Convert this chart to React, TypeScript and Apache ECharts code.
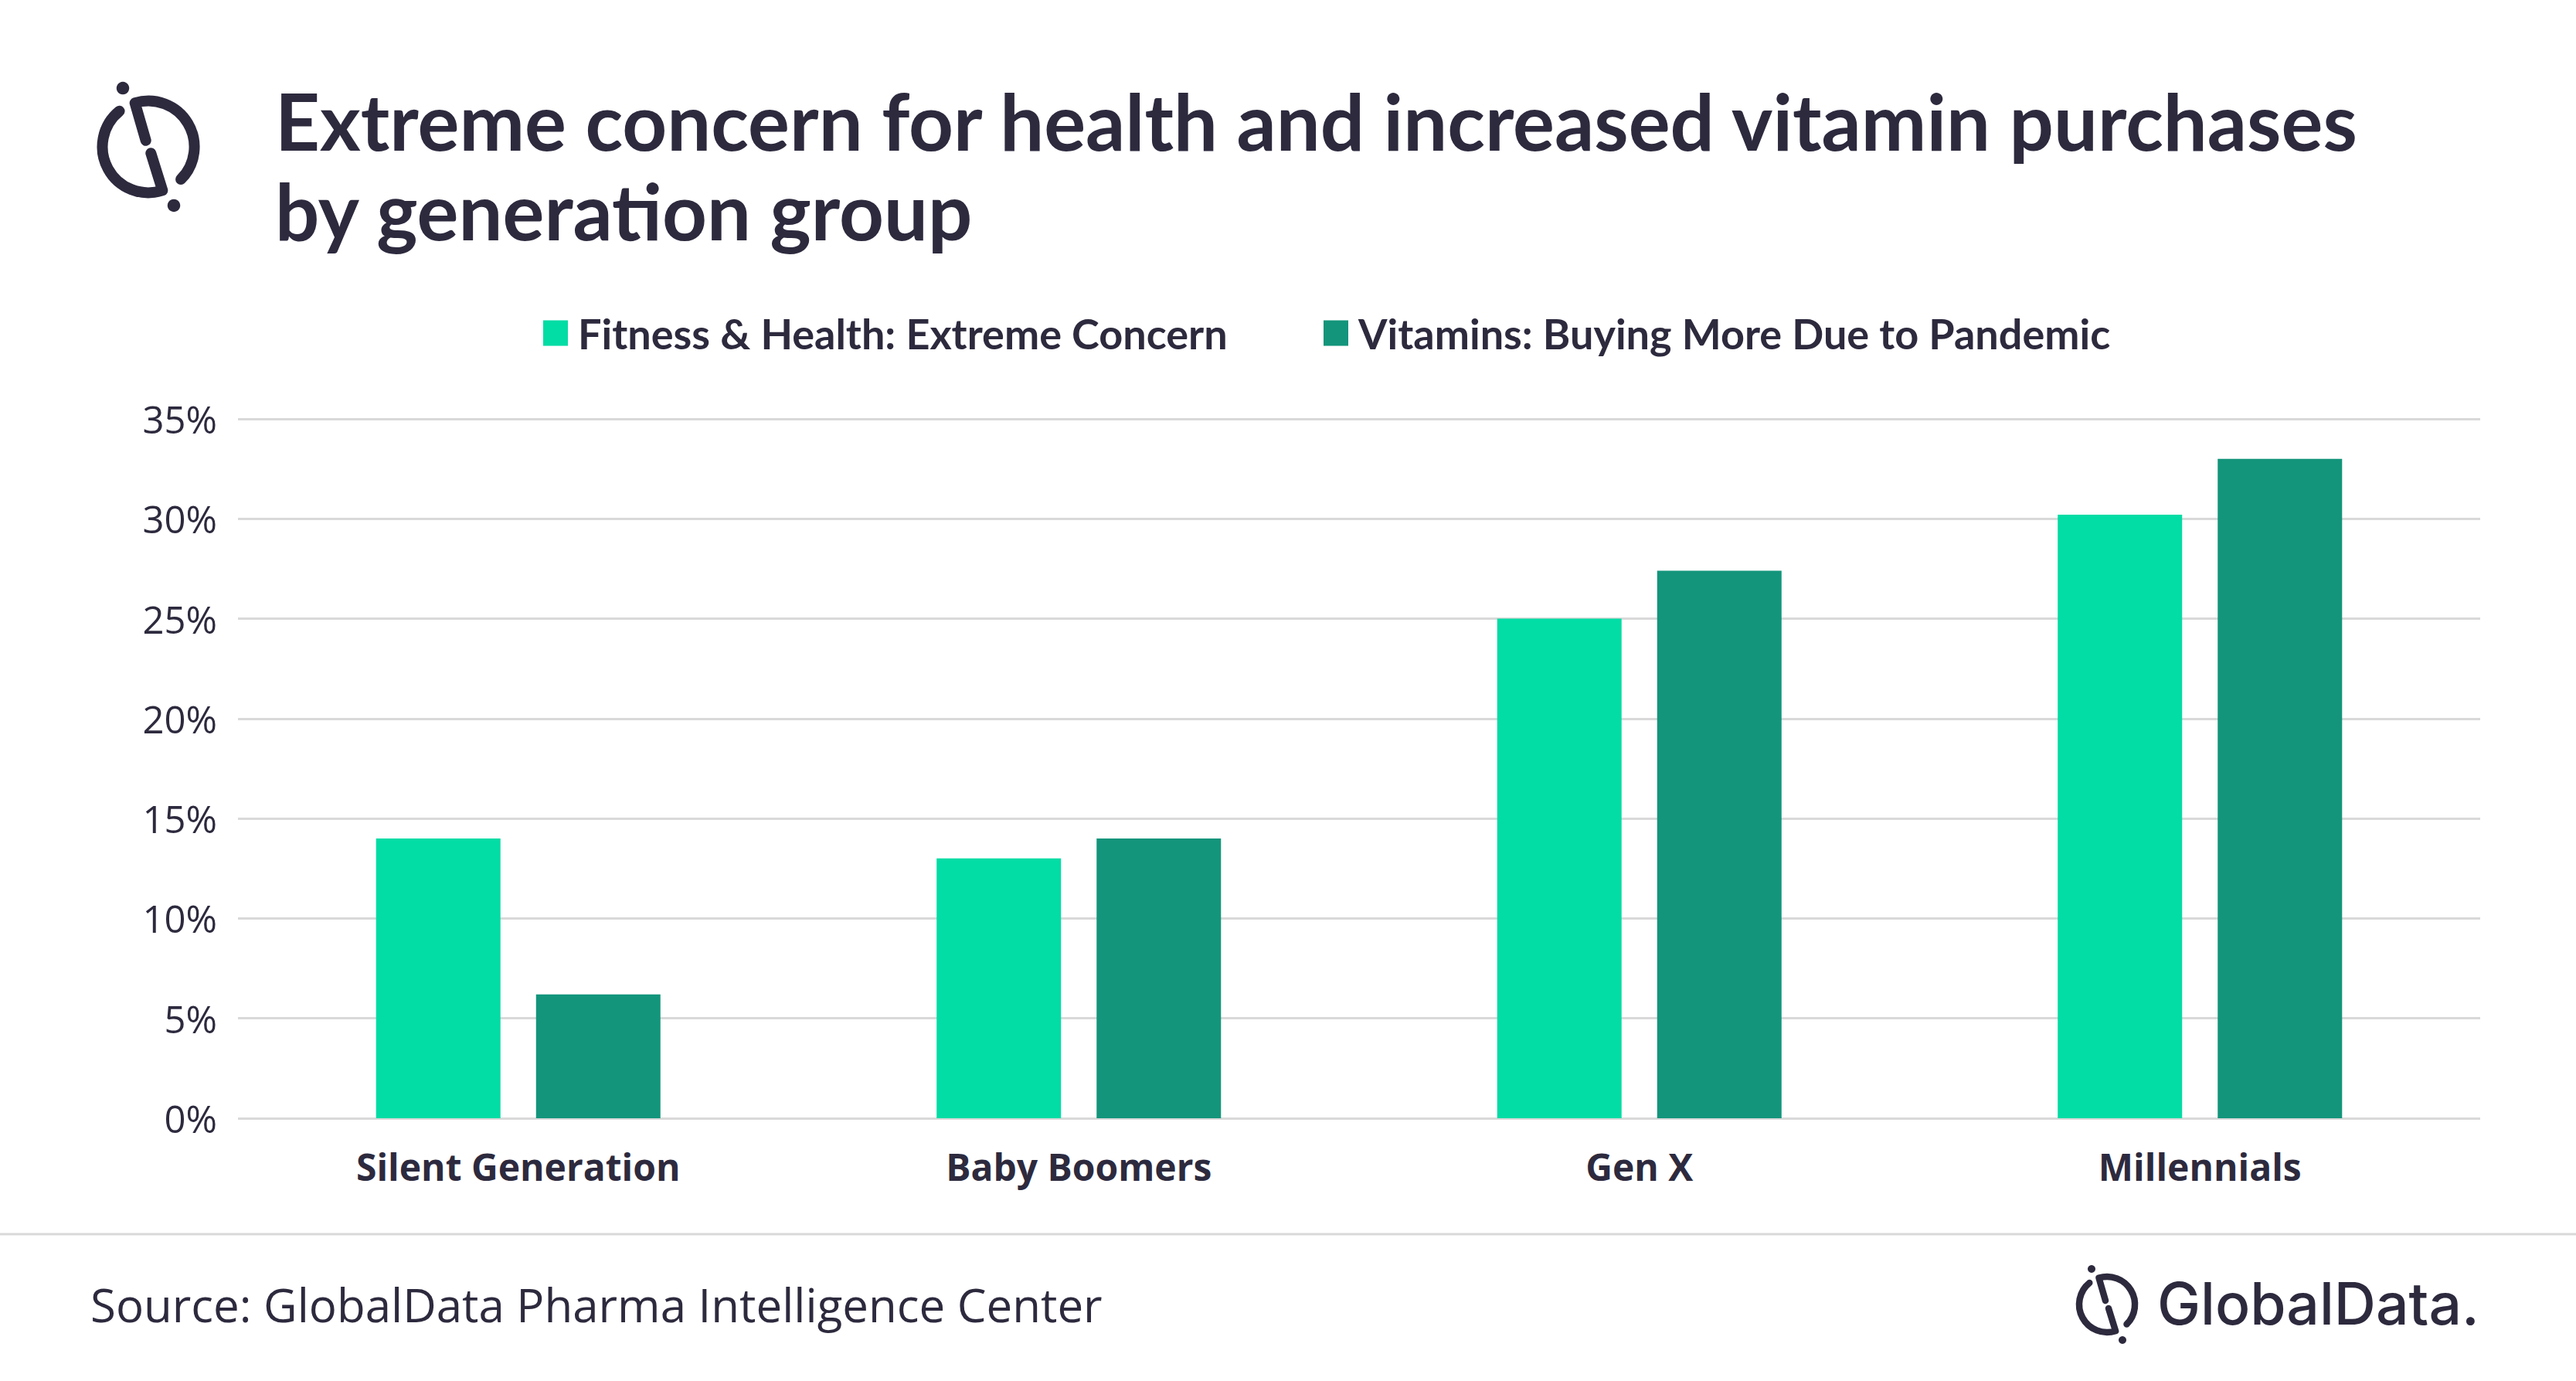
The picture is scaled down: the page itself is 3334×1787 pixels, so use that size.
import React, { useEffect, useRef } from "react";
import * as echarts from "echarts";

const categories = ["Silent Generation", "Baby Boomers", "Gen X", "Millennials"];
const seriesNames = ["Fitness & Health: Extreme Concern", "Vitamins: Buying More Due to Pandemic"];
const fitnessValues = [14, 13, 25, 30.2];
const vitaminValues = [6.2, 14, 27.4, 33];
const yMin = 0;
const yMax = 35;
const yStep = 5;

const titleLines = ["Extreme concern for health and increased vitamin purchases", "by generation group"];
const sourceText = "Source: GlobalData Pharma Intelligence Center";
const brandText = "GlobalData.";

const INK = "#2d2a3e";
const LIGHT = "#02dca5";
const DARK = "#13957b";
const GRID = "#d9d9d9";

const logoD =
  "M -2 -5 L -10.5 -34.4 A 36 36 0 0 1 25.5 25.5 " +
  "M 2 5 L 11.1 34.2 A 36 36 0 0 1 -22.7 -28.0";

let registered = false;
function ensureShape() {
  if (registered) return;
  echarts.graphic.registerShape("gdLogo", echarts.graphic.extendPath(logoD, {}) as any);
  registered = true;
}

function logoGroup(x: number, y: number, s: number) {
  return {
    type: "group",
    x,
    y,
    scaleX: s,
    scaleY: s,
    children: [
      {
        type: "gdLogo",
        style: { stroke: INK, fill: "none", lineWidth: 8.5, lineCap: "round", lineJoin: "round" },
      },
      { type: "circle", shape: { cx: -20, cy: -46, r: 5 }, style: { fill: INK } },
      { type: "circle", shape: { cx: 20, cy: 46, r: 5 }, style: { fill: INK } },
    ],
  };
}

const legendText = { fontFamily: "Lato", fontWeight: "bold", fontSize: 54, color: INK, padding: [0, 0, 0, 8] };

export default function App() {
  const ref = useRef<HTMLDivElement>(null);
  useEffect(() => {
    document.body.style.margin = "0";
    ensureShape();
    const chart = echarts.init(ref.current!, null, { renderer: "svg" });
    chart.setOption({
      animation: false,
      backgroundColor: "#ffffff",
      grid: { left: 308, right: 124, top: 542, bottom: 340, containLabel: false },
      legend: [
        {
          data: [seriesNames[0]],
          left: 703,
          top: 404,
          padding: 0,
          itemWidth: 32,
          itemHeight: 33,
          icon: "rect",
          textStyle: legendText,
        },
        {
          data: [seriesNames[1]],
          left: 1713,
          top: 404,
          padding: 0,
          itemWidth: 32,
          itemHeight: 33,
          icon: "rect",
          textStyle: legendText,
        },
      ],
      xAxis: {
        type: "category",
        data: categories,
        axisLine: { show: false },
        axisTick: { show: false },
        axisLabel: {
          fontFamily: "Open Sans",
          fontWeight: "bold",
          fontSize: 48,
          color: INK,
          margin: 38,
        },
      },
      yAxis: {
        type: "value",
        min: yMin,
        max: yMax,
        interval: yStep,
        axisLine: { show: false },
        axisTick: { show: false },
        splitLine: { lineStyle: { color: GRID, width: 3 } },
        axisLabel: {
          formatter: "{value}%",
          fontFamily: "Open Sans",
          fontSize: 49,
          color: INK,
          margin: 27,
        },
      },
      series: [
        {
          name: seriesNames[0],
          type: "bar",
          data: fitnessValues,
          barWidth: 161,
          barGap: "28.6%",
          itemStyle: { color: LIGHT },
        },
        {
          name: seriesNames[1],
          type: "bar",
          data: vitaminValues,
          barWidth: 161,
          itemStyle: { color: DARK },
        },
      ],
      graphic: [
        logoGroup(192, 190, 1.65),
        {
          type: "text",
          x: 356,
          y: 156,
          style: { text: titleLines[0], fontFamily: "Lato", fontWeight: "bold", fontSize: 101, fill: INK, verticalAlign: "middle" },
        },
        {
          type: "text",
          x: 356,
          y: 272,
          style: { text: titleLines[1], fontFamily: "Lato", fontWeight: "bold", fontSize: 101, fill: INK, verticalAlign: "middle" },
        },
        {
          type: "line",
          shape: { x1: 0, y1: 1597, x2: 3334, y2: 1597 },
          style: { stroke: GRID, lineWidth: 3 },
        },
        {
          type: "text",
          x: 117,
          y: 1688,
          style: { text: sourceText, fontFamily: "Open Sans", fontSize: 60, fill: INK, verticalAlign: "middle" },
        },
        logoGroup(2727, 1688, 1),
        {
          type: "text",
          x: 2792,
          y: 1686,
          style: { text: brandText, fontFamily: "Inter", fontWeight: 500, fontSize: 75, fill: INK, verticalAlign: "middle" },
        },
      ],
    });
    return () => chart.dispose();
  }, []);
  return (
    <div
      ref={ref}
      style={{ position: "fixed", left: 0, top: 0, width: 3334, height: 1787, background: "#ffffff" }}
    />
  );
}
